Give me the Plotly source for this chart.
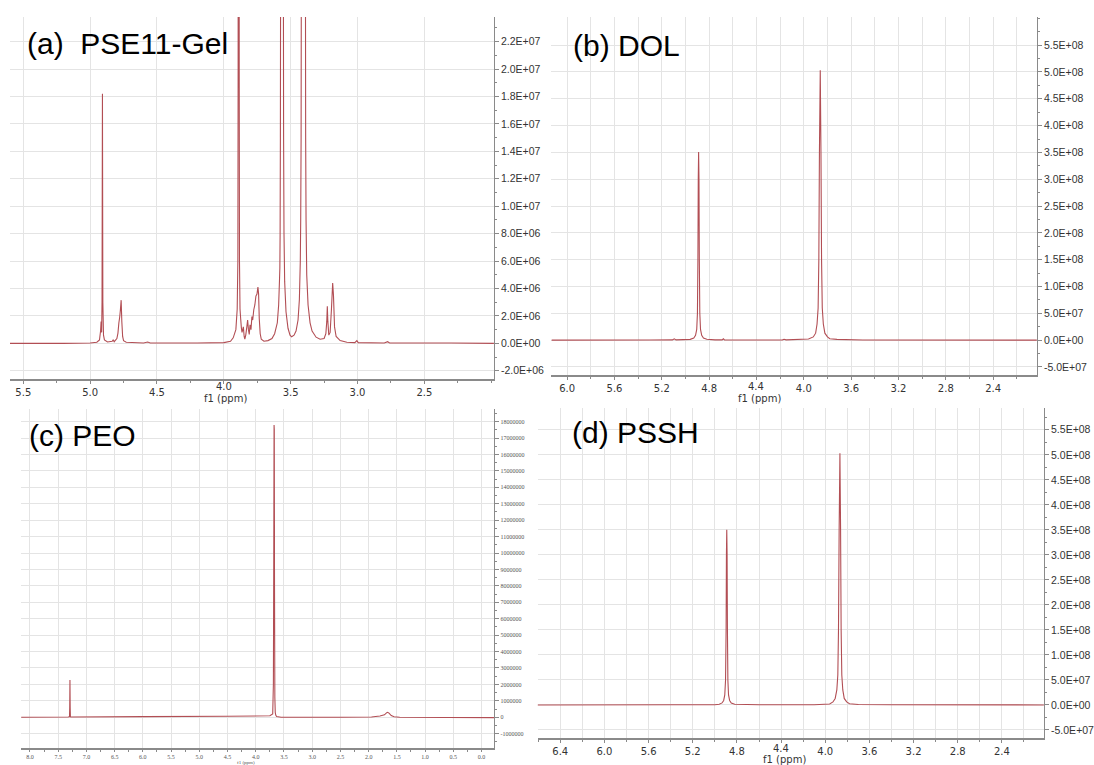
import plotly.graph_objects as go

W, H = 1094, 765

# ---------------- data ----------------
# (a) PSE11-Gel
a_ppm = [5.60, 5.20, 5.00, 4.95, 4.93, 4.922, 4.918, 4.914, 4.911, 4.908, 4.905, 4.900, 4.893,
         4.87, 4.835, 4.828, 4.82, 4.80, 4.792, 4.785, 4.779, 4.774, 4.768, 4.763, 4.757, 4.75,
         4.73, 4.60, 4.57, 4.55, 4.20, 4.00, 3.95, 3.93, 3.91, 3.90, 3.895, 3.893, 3.891, 3.889,
         3.887, 3.885, 3.883, 3.879, 3.874, 3.869, 3.864, 3.859, 3.854, 3.848, 3.843, 3.836,
         3.828, 3.822, 3.816, 3.810, 3.804, 3.797, 3.790, 3.784, 3.776, 3.768, 3.760, 3.752,
         3.745, 3.740, 3.735, 3.728, 3.72, 3.70, 3.67, 3.64, 3.62, 3.60, 3.59, 3.583, 3.581,
         3.579, 3.577, 3.575, 3.572, 3.565, 3.558, 3.555, 3.553, 3.550, 3.545, 3.535, 3.52,
         3.505, 3.493, 3.475, 3.46, 3.445, 3.435, 3.428, 3.425, 3.422, 3.420, 3.415, 3.405,
         3.395, 3.390, 3.388, 3.385, 3.38, 3.37, 3.355, 3.34, 3.31, 3.28, 3.25, 3.237, 3.230,
         3.226, 3.222, 3.215, 3.205, 3.195, 3.186, 3.180, 3.172, 3.16, 3.13, 3.08, 3.02, 3.005,
         2.995, 2.80, 2.775, 2.76, 2.30, 1.98]
a_int = [0.0, 0.0, 0.03e6, 0.08e6, 0.25e6, 0.9e6, 1.6e6, 0.8e6, 3.0e6, 18.2e6, 3.0e6, 0.6e6, 0.25e6,
         0.1e6, 0.15e6, 0.25e6, 0.12e6, 0.35e6, 0.75e6, 1.5e6, 1.9e6, 2.4e6, 3.15e6, 1.6e6, 0.5e6, 0.2e6,
         0.08e6, 0.03e6, 0.1e6, 0.02e6, 0.02e6, 0.05e6, 0.15e6, 0.4e6, 1.0e6, 2.5e6, 6e6, 20e6, 80e6, 120e6,
         80e6, 20e6, 6e6, 2.5e6, 1.8e6, 1.15e6, 0.8e6, 1.0e6, 1.2e6, 0.5e6, 0.3e6, 0.6e6,
         1.2e6, 1.7e6, 1.0e6, 0.65e6, 1.35e6, 1.0e6, 1.95e6, 1.7e6, 2.45e6, 2.8e6, 3.45e6, 3.6e6,
         4.1e6, 3.6e6, 1.8e6, 0.7e6, 0.3e6, 0.15e6, 0.2e6, 0.35e6, 0.7e6, 1.5e6, 2.8e6, 4.8e6, 5.5e6,
         8e6, 15e6, 30e6, 80e6, 120e6, 80e6, 30e6, 15e6, 8e6, 4.5e6, 2.3e6, 1.1e6,
         0.6e6, 0.48e6, 0.6e6, 0.9e6, 1.7e6, 3.2e6, 6e6, 9e6, 15e6, 30e6, 80e6, 120e6,
         80e6, 30e6, 15e6, 9e6, 5e6, 2.8e6, 1.5e6, 0.9e6, 0.45e6, 0.3e6, 0.35e6, 0.7e6, 1.6e6,
         2.7e6, 1.6e6, 0.6e6, 0.8e6, 2.5e6, 4.4e6, 3.5e6, 1.2e6, 0.5e6, 0.2e6, 0.08e6, 0.05e6, 0.2e6,
         0.05e6, 0.03e6, 0.12e6, 0.03e6, 0.02e6, 0.0]

# (b) DOL
b_ppm = [6.133, 5.30, 5.11, 5.095, 5.08, 4.96, 4.93, 4.915, 4.905, 4.899, 4.895, 4.892, 4.889,
         4.886, 4.883, 4.879, 4.873, 4.863, 4.848, 4.82, 4.75, 4.69, 4.68, 4.67, 4.40, 4.18,
         4.167, 4.15, 3.96, 3.92, 3.90, 3.888, 3.879, 3.873, 3.868, 3.861, 3.855, 3.850, 3.844,
         3.835, 3.822, 3.80, 3.78, 3.72, 3.50, 2.03]
b_int = [0.0, 0.3e6, 0.5e6, 2.5e6, 0.5e6, 1.5e6, 4e6, 9e6, 20e6, 50e6, 150e6, 300e6, 351e6,
         300e6, 150e6, 50e6, 20e6, 9e6, 4e6, 1.5e6, 0.5e6, 0.5e6, 2.5e6, 0.5e6, 0.3e6, 0.5e6,
         1.5e6, 0.5e6, 2e6, 6e6, 13e6, 30e6, 60e6, 150e6, 350e6, 503e6, 350e6, 150e6, 60e6,
         30e6, 13e6, 6e6, 2.5e6, 1.5e6, 0.3e6, 0.0]

# (c) PEO
c_ppm = [8.157, 7.32, 7.30, 7.296, 7.292, 7.288, 7.284, 7.28, 6.00, 4.50, 3.75, 3.70, 3.688,
         3.681, 3.676, 3.672, 3.668, 3.662, 3.655, 3.645, 3.63, 3.55, 2.50, 1.95, 1.80, 1.72,
         1.68, 1.664, 1.64, 1.60, 1.55, 1.45, -0.224]
c_int = [0.0, 0.02e6, 0.04e6, 0.6e6, 2.27e6, 0.6e6, 0.04e6, 0.02e6, 0.04e6, 0.06e6, 0.09e6, 0.2e6, 2.0e6,
         10e6, 17.8e6, 17.5e6, 8e6, 1.2e6, 0.3e6, 0.12e6, 0.04e6, 0.0, 0.0, 0.02e6, 0.08e6, 0.15e6,
         0.28e6, 0.3e6, 0.25e6, 0.1e6, 0.03e6, 0.0, -0.02e6]

# (d) PSSH
d_ppm = [6.606, 5.40, 5.00, 4.96, 4.935, 4.92, 4.91, 4.903, 4.898, 4.895, 4.892, 4.889, 4.886,
         4.882, 4.876, 4.866, 4.851, 4.82, 4.60, 4.10, 3.96, 3.93, 3.91, 3.895, 3.886, 3.880,
         3.874, 3.867, 3.861, 3.856, 3.850, 3.841, 3.828, 3.806, 3.78, 3.70, 3.40, 2.019]
d_int = [0.0, 0.3e6, 0.5e6, 1.5e6, 4e6, 9e6, 20e6, 50e6, 150e6, 300e6, 350e6, 300e6, 150e6,
         50e6, 20e6, 9e6, 4e6, 1.5e6, 0.5e6, 0.5e6, 2e6, 6e6, 13e6, 30e6, 60e6, 150e6,
         350e6, 503e6, 350e6, 150e6, 60e6, 30e6, 13e6, 6e6, 2.5e6, 1.0e6, 0.3e6, 0.0]

# tick values / labels
a_xticks = [5.5, 5.0, 4.5, 4.0, 3.5, 3.0, 2.5]
b_xticks = [6.0, 5.6, 5.2, 4.8, 4.4, 4.0, 3.6, 3.2, 2.8, 2.4]
c_xticks = [8.0, 7.5, 7.0, 6.5, 6.0, 5.5, 5.0, 4.5, 4.0, 3.5, 3.0, 2.5, 2.0, 1.5, 1.0, 0.5, 0.0]
d_xticks = [6.4, 6.0, 5.6, 5.2, 4.8, 4.4, 4.0, 3.6, 3.2, 2.8, 2.4]
raised_x = [4.0, 4.4, None, 4.4]          # tick label lifted to make room for "f1 (ppm)"

a_yticks = [-2e6, 0, 2e6, 4e6, 6e6, 8e6, 1.0e7, 1.2e7, 1.4e7, 1.6e7, 1.8e7, 2.0e7, 2.2e7]
b_yticks = [-5e7, 0, 5e7, 1.0e8, 1.5e8, 2.0e8, 2.5e8, 3.0e8, 3.5e8, 4.0e8, 4.5e8, 5.0e8, 5.5e8]
c_yticks = [-1000000, 0, 1000000, 2000000, 3000000, 4000000, 5000000, 6000000, 7000000,
            8000000, 9000000, 10000000, 11000000, 12000000, 13000000, 14000000, 15000000,
            16000000, 17000000, 18000000]
d_yticks = [-5e7, 0, 5e7, 1.0e8, 1.5e8, 2.0e8, 2.5e8, 3.0e8, 3.5e8, 4.0e8, 4.5e8, 5.0e8, 5.5e8]

panel_titles = ["(a)  PSE11-Gel", "(b) DOL", "(c) PEO", "(d) PSSH"]


def sci(v):
    return f"{v:.1E}"


def xlab(ticks, raised):
    return ["" if (raised is not None and abs(t - raised) < 1e-9) else f"{t:.1f}" for t in ticks]


# ---------------- styling helpers ----------------
LINE = "#b24e54"
GRID = "#e4e4e4"
AX = "#8a8a8a"
TXT = "#333333"
FONT_X = dict(family="DejaVu Sans", size=10, color=TXT)
FONT_Y = dict(family="Liberation Sans", size=10.5, color=TXT)
FONT_C = dict(family="Liberation Serif", size=6, color="#555555")


def fx(px):
    return px / W


def fy(py):
    return 1 - py / H


def xaxis(dom, rng, anchor, tvals, ttext, mdtick, mgrid, font, tlen):
    return dict(domain=[fx(dom[0]), fx(dom[1])], range=rng, anchor=anchor,
                tickmode="array", tickvals=tvals, ticktext=ttext, showgrid=True,
                gridcolor=GRID, gridwidth=1, zeroline=False, showline=True, linecolor=AX,
                linewidth=1.5, ticks="outside", ticklen=tlen, tickcolor=AX, tickfont=font,
                minor=dict(tickmode="linear", tick0=0, dtick=mdtick, ticklen=2, tickcolor=AX,
                           showgrid=mgrid, gridcolor=GRID, gridwidth=1),
                fixedrange=True)


def yaxis(dom, rng, anchor, tvals, ttext, mdtick, font):
    return dict(domain=[fy(dom[1]), fy(dom[0])], range=rng, anchor=anchor, side="right",
                tickmode="array", tickvals=tvals, ticktext=ttext, showgrid=True,
                gridcolor=GRID, gridwidth=1, zeroline=False, showline=True, linecolor=AX,
                linewidth=1, ticks="outside", ticklen=4, tickcolor=AX, tickfont=font,
                minor=dict(tickmode="linear", tick0=0, dtick=mdtick, ticklen=2, tickcolor=AX,
                           showgrid=False),
                fixedrange=True)


fig = go.Figure()
series = [(a_ppm, a_int, "x", "y"), (b_ppm, b_int, "x2", "y2"),
          (c_ppm, c_int, "x3", "y3"), (d_ppm, d_int, "x4", "y4")]
for xs, ys, xa, ya in series:
    fig.add_trace(go.Scatter(x=xs, y=ys, xaxis=xa, yaxis=ya, mode="lines",
                             line=dict(color=LINE, width=1.1, simplify=False),
                             hoverinfo="skip", showlegend=False))

fig.update_layout(
    width=W, height=H, margin=dict(l=0, r=0, t=0, b=0), autosize=False,
    paper_bgcolor="white", plot_bgcolor="white", showlegend=False,
    xaxis=xaxis((10, 498), [5.60, 1.98], "y", a_xticks, xlab(a_xticks, raised_x[0]), 0.25, False, FONT_X, 3),
    yaxis=yaxis((17, 379), [-2.6e6, 23.8e6], "x", a_yticks, [sci(v) for v in a_yticks], 1e6, FONT_Y),
    xaxis2=xaxis((556, 1045.5), [6.133, 2.03], "y2", b_xticks, xlab(b_xticks, raised_x[1]), 0.2, True, FONT_X, 3),
    yaxis2=yaxis((17, 375), [-6.5e7, 6.025e8], "x2", b_yticks, [sci(v) for v in b_yticks], 2.5e7, FONT_Y),
    xaxis3=xaxis((21.3, 498.3), [8.157, -0.224], "y3", c_xticks, xlab(c_xticks, raised_x[2]), 0.25, False, FONT_C, 2),
    yaxis3=yaxis((409, 748.3), [-1.89e6, 18.77e6], "x3", c_yticks, [str(v) for v in c_yticks], 5e5, FONT_C),
    xaxis4=xaxis((542, 1052.6), [6.606, 2.019], "y4", d_xticks, xlab(d_xticks, raised_x[3]), 0.2, True, FONT_X, 3),
    yaxis4=yaxis((408.3, 738.3), [-6.67e7, 5.93e8], "x4", d_yticks, [sci(v) for v in d_yticks], 2.5e7, FONT_Y),
)

# lifted middle tick labels (data x, paper y)
lifted = [("x", raised_x[0], 386.5), ("x2", raised_x[1], 386.5), ("x4", raised_x[3], 748)]
for xr, xv, py in lifted:
    fig.add_annotation(text=f"{xv:.1f}", x=xv, y=fy(py), xref=xr, yref="paper",
                       xanchor="center", yanchor="middle", showarrow=False, font=FONT_X)

# panel labels
title_pos = [(129, 43), (632, 45), (83, 435), (641, 432)]
for txt, (px, py) in zip(panel_titles, title_pos):
    fig.add_annotation(text=txt, x=fx(px), y=fy(py), xref="paper", yref="paper",
                       xanchor="center", yanchor="middle", showarrow=False,
                       font=dict(family="Liberation Sans", size=30, color="black"))

# axis titles
f1_pos = [(227, 398.5, FONT_X), (766, 398.5, FONT_X), (248, 762, dict(FONT_C, size=5)), (791, 759.5, FONT_X)]
for px, py, fnt in f1_pos:
    fig.add_annotation(text="f1 (ppm)", x=fx(px), y=fy(py), xref="paper", yref="paper",
                       xanchor="center", yanchor="middle", showarrow=False, font=fnt)

fig.write_html("out.html", config={"displayModeBar": False},
               post_script="document.body.style.margin='0px';document.body.style.overflow='hidden';")
